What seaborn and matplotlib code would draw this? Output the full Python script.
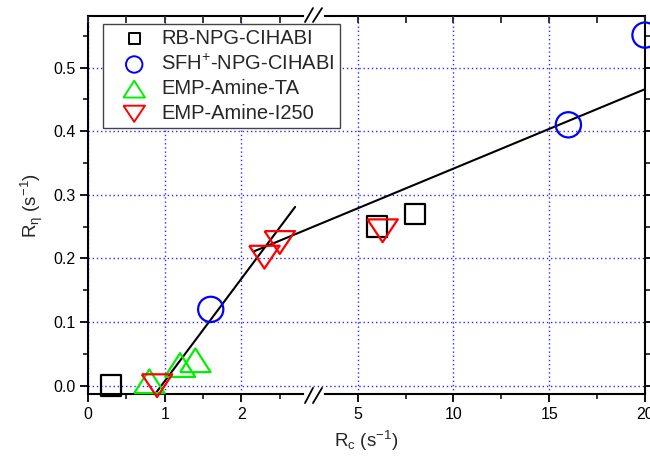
import numpy as np
import pandas as pd
import matplotlib
matplotlib.use("Agg")
import matplotlib.pyplot as plt
import seaborn as sns

# ---- data ----
rb_x = [0.3, 6.0, 8.0]
rb_y = [0.0, 0.25, 0.27]
sfh_x = [1.6, 16.0, 20.0]
sfh_y = [0.12, 0.41, 0.551]
ta_x = [0.8, 1.2, 1.4]
ta_y = [0.007, 0.0325, 0.040]
i250_x = [0.9, 2.3, 2.5, 6.3]
i250_y = [0.0, 0.202, 0.225, 0.2435]
fit1_x = [0.887, 2.70]
fit1_y = [-0.011, 0.281]
fit2_x = [2.16, 20.0]
fit2_y = [0.211, 0.466]
labels = ["RB-NPG-CIHABI", "SFH$^{+}$-NPG-CIHABI", "EMP-Amine-TA", "EMP-Amine-I250"]
x_major = [0, 1, 2, 5, 10, 15, 20]
x_minor = [0.5, 1.5, 2.5, 7.5, 12.5, 17.5]
y_major = [0.0, 0.1, 0.2, 0.3, 0.4, 0.5]
y_minor = [0.05, 0.15, 0.25, 0.35, 0.45, 0.55]

sns.set_theme(style="white")
plt.rcParams["font.family"] = ["Liberation Sans", "DejaVu Sans"]
plt.rcParams["mathtext.fontset"] = "custom"
plt.rcParams["mathtext.rm"] = "Liberation Sans"
plt.rcParams["mathtext.it"] = "Liberation Sans"

# broken x-axis scale (left segment 0..XB, right segment from ~3)
XB = 2.85
LS, RS, R0 = 76.7, 19.15, 269.7


def fwd(x):
    x = np.asarray(x, dtype=float)
    return np.where(x <= XB, x * LS, R0 + (x - 5.0) * RS)


def inv(u):
    u = np.asarray(u, dtype=float)
    return np.where(u <= XB * LS, u / LS, (u - R0) / RS + 5.0)


fig = plt.figure(figsize=(6.5, 4.61), dpi=100)
ax = fig.add_axes([88 / 650, 1 - 394 / 461, 557 / 650, 378 / 461])
ax.set_xscale("function", functions=(fwd, inv))
ax.set_xlim(0, 20)
ax.set_ylim(-0.013, 0.581)

tri_up = [(-1, -0.78), (1, -0.78), (0, 0.78), (-1, -0.78)]
tri_dn = [(-1, 0.75), (1, 0.75), (0, -0.75), (-1, 0.75)]

series = [
    (rb_x, rb_y, "s", "#000000", 220, labels[0]),
    (sfh_x, sfh_y, "o", "#0000ff", 330, labels[1]),
    (ta_x, ta_y, tri_up, "#00ee00", 480, labels[2]),
    (i250_x, i250_y, tri_dn, "#ff0000", 480, labels[3]),
]
for xs, ys, mk, col, sz, lab in series:
    sns.scatterplot(x=xs, y=ys, ax=ax, marker=mk, s=sz, color=col,
                    facecolor="none", edgecolor=col, linewidth=1.6,
                    label=lab, zorder=3, clip_on=False)

sns.lineplot(x=fit1_x, y=fit1_y, ax=ax, color="black", lw=1.5, zorder=2,
             estimator=None, sort=False)
sns.lineplot(x=fit2_x, y=fit2_y, ax=ax, color="black", lw=1.5, zorder=2,
             estimator=None, sort=False)

ax.set_xticks(x_major)
ax.set_xticklabels([str(v) for v in x_major])
ax.set_xticks(x_minor, minor=True)
ax.set_yticks(y_major)
ax.set_yticklabels([f"{v:.1f}" for v in y_major])
ax.set_yticks(y_minor, minor=True)
ax.grid(True, which="major", color="#2a2aff", linestyle=(0, (1, 2)), linewidth=1.0)
ax.set_axisbelow(True)

for sp in ax.spines.values():
    sp.set_linewidth(1.5)
    sp.set_color("black")
    sp.set_visible(True)

ax.tick_params(axis="both", which="major", direction="out", length=6, width=1.3,
               labelsize=11.5, colors="black", pad=3)
ax.tick_params(axis="both", which="minor", direction="out", length=3.5, width=1.3)
ax.tick_params(axis="y", which="both", left=True, right=True, labelright=False)
ax.tick_params(axis="x", which="both", bottom=True, top=False)

ax.set_xlabel("R$_{\\mathregular{c}}$ (s$^{\\mathregular{-1}}$)", fontsize=13.5, labelpad=5)
ax.set_ylabel("R$_{\\mathregular{\\eta}}$ (s$^{\\mathregular{-1}}$)", fontsize=13.5, labelpad=6)

# top ticks (inward)
ax2 = ax.twiny()
ax2.set_xscale("function", functions=(fwd, inv))
ax2.set_xlim(0, 20)
ax2.set_xticks(x_major)
ax2.set_xticks(x_minor, minor=True)
ax2.tick_params(axis="x", which="both", direction="in", length=5, width=1.3,
                labeltop=False, top=True, bottom=False)
for sp in ax2.spines.values():
    sp.set_visible(False)

# break marks
g0, g1 = (306 - 88) / 557, (322 - 88) / 557
for yy in (0, 1):
    ax2.plot([g0, g1], [yy, yy], transform=ax2.transAxes, color="white",
             lw=3, clip_on=False, zorder=10)
for yy0, yy1 in ((-0.024, 0.016), (0.984, 1.021)):
    for xa, xb in (((305 - 88) / 557, (313 - 88) / 557), ((313 - 88) / 557, (322 - 88) / 557)):
        ax2.plot([xa, xb], [yy0, yy1], transform=ax2.transAxes, color="black",
                 lw=1.3, clip_on=False, zorder=11)

leg = ax.legend(loc="upper left", bbox_to_anchor=(15 / 557, 370 / 378),
                borderaxespad=0, fontsize=14.5, frameon=True, fancybox=False,
                edgecolor="#444444", framealpha=1, labelspacing=0.28,
                handletextpad=0.05, borderpad=0.25, handlelength=2.6)
leg.get_frame().set_linewidth(1.0)
for h, sz in zip(leg.legend_handles, [60, 140, 240, 240]):
    h.set_sizes([sz])
    h.set_linewidth(1.4)

fig.savefig("out.png", dpi=100)
